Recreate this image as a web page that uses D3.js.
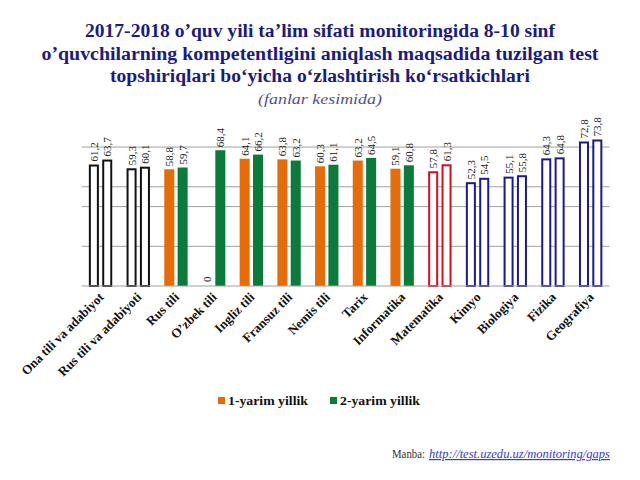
<!DOCTYPE html>
<html>
<head>
<meta charset="utf-8">
<script src="https://cdn.jsdelivr.net/npm/d3@7"></script>
<style>
  body { margin: 0; background: #fff; }
  svg text { font-family: "Liberation Serif", "Times New Roman", serif; }
</style>
</head>
<body>
<svg width="640" height="480"></svg>
<script>
var categories = ['Ona tili va adabiyot', 'Rus tili va adabiyoti', 'Rus tili', 'O\u2019zbek tili', 'Ingliz tili',
    'Fransuz tili', 'Nemis tili', 'Tarix', 'Informatika', 'Matematika', 'Kimyo', 'Biologiya', 'Fizika', 'Geografiya'];
var half1 = [61.2, 59.3, 58.8, 0, 64.1, 63.8, 60.3, 63.2, 59.1, 57.8, 52.3, 55.1, 64.3, 72.8];
var half2 = [63.7, 60.1, 59.7, 68.4, 66.2, 63.2, 61.1, 64.5, 60.8, 61.3, 54.5, 55.8, 64.8, 73.8];
// style group for each category: outline colour or filled
var groups = ['black', 'black', 'fill', 'fill', 'fill', 'fill', 'fill', 'fill', 'fill', 'red', 'navy', 'navy', 'navy', 'navy'];
var gridValues = [20, 40, 50, 70];
var seriesNames = ['1-yarim yillik', '2-yarim yillik'];

var fillColors = ['#e46c0a', '#0b7a3b'];
var outline = { black: '#111', red: '#d01020', navy: '#1a1a8c' };

var svg = d3.select('svg');

var x = d3.scaleBand()
    .domain(categories)
    .range([81.7, 609.5])
    .paddingInner(0.38)
    .paddingOuter(0.19);

var xs = d3.scaleBand()
    .domain([0, 1])
    .range([0, x.bandwidth()])
    .paddingInner(0.25);

var y = d3.scaleLinear()
    .domain([0, 80])
    .range([286, 127.2]);

// gridlines
svg.selectAll('.grid')
    .data(gridValues)
    .enter()
    .append('line')
    .attr('x1', 81.7)
    .attr('x2', 609.5)
    .attr('y1', function(d){ return y(d); })
    .attr('y2', function(d){ return y(d); })
    .attr('stroke', '#a0a0a0')
    .attr('stroke-width', 1);

var data = [];
categories.forEach(function(c, i){
    data.push({ cat: c, s: 0, v: half1[i], g: groups[i] });
    data.push({ cat: c, s: 1, v: half2[i], g: groups[i] });
});

svg.selectAll('rect.bar')
    .data(data.filter(function(d){ return d.v > 0; }))
    .enter()
    .append('rect')
    .attr('class', 'bar')
    .attr('x', function(d){ return x(d.cat) + xs(d.s) + (d.g === 'fill' ? 0 : 1); })
    .attr('width', function(d){ return xs.bandwidth() - (d.g === 'fill' ? 0 : 2); })
    .attr('y', function(d){ return y(d.v) + (d.g === 'fill' ? 0 : 1); })
    .attr('height', function(d){ return y(0) - y(d.v) - (d.g === 'fill' ? 0 : 1); })
    .attr('fill', function(d){ return d.g === 'fill' ? fillColors[d.s] : '#fff'; })
    .attr('stroke', function(d){ return d.g === 'fill' ? 'none' : outline[d.g]; })
    .attr('stroke-width', 2);

// baseline
svg.append('line')
    .attr('x1', 81.7)
    .attr('x2', 609.5)
    .attr('y1', y(0))
    .attr('y2', y(0))
    .attr('stroke', '#a0a0a0')
    .attr('stroke-width', 1);

// value labels
svg.selectAll('text.val')
    .data(data)
    .enter()
    .append('text')
    .attr('class', 'val')
    .attr('transform', function(d){
        var cx = x(d.cat) + xs(d.s) + xs.bandwidth() / 2 + 4;
        var cy = y(d.v) - (d.v > 0 ? 3 : 4);
        return 'translate(' + cx + ',' + cy + ') rotate(-90)';
    })
    .attr('font-size', 11)
    .attr('fill', '#222')
    .text(function(d){ return d.v > 0 ? d.v.toFixed(1).replace('.', ',') : '0'; });

// category labels
svg.selectAll('text.cat')
    .data(categories)
    .enter()
    .append('text')
    .attr('class', 'cat')
    .attr('transform', function(d){
        return 'translate(' + (x(d) + x.bandwidth() / 2 + 4) + ',298) rotate(-45)';
    })
    .attr('text-anchor', 'end')
    .attr('font-size', 13)
    .attr('font-weight', 'bold')
    .attr('fill', '#111')
    .text(function(d){ return d; });

// title (the source slide is stretched sideways, so lines get fixed widths)
var title = ['2017-2018 o\u2019quv yili ta\u2019lim sifati monitoringida 8-10 sinf',
    'o\u2019quvchilarning kompetentligini aniqlash maqsadida tuzilgan test',
    'topshiriqlari bo\u2018yicha o\u2018zlashtirish ko\u2018rsatkichlari'];
var titleW = [470, 557, 420];
svg.selectAll('text.title')
    .data(title)
    .enter()
    .append('text')
    .attr('class', 'title')
    .attr('x', function(d, i){ return 320 - titleW[i] / 2; })
    .attr('y', function(d, i){ return 37 + i * 22.5; })
    .attr('textLength', function(d, i){ return titleW[i]; })
    .attr('lengthAdjust', 'spacingAndGlyphs')
    .attr('font-size', 18.5)
    .attr('font-weight', 'bold')
    .attr('fill', '#1c1c7c')
    .text(function(d){ return d; });

svg.append('text')
    .attr('x', 258)
    .attr('y', 104)
    .attr('textLength', 124)
    .attr('lengthAdjust', 'spacingAndGlyphs')
    .attr('font-size', 15)
    .attr('font-style', 'italic')
    .attr('fill', '#54508a')
    .text('(fanlar kesimida)');

// legend
var legX = [218, 330];
seriesNames.forEach(function(n, i){
    svg.append('rect')
        .attr('x', legX[i])
        .attr('y', 397)
        .attr('width', 7)
        .attr('height', 7)
        .attr('fill', fillColors[i]);
    svg.append('text')
        .attr('x', legX[i] + 10)
        .attr('y', 405)
        .attr('textLength', 80)
        .attr('lengthAdjust', 'spacingAndGlyphs')
        .attr('font-size', 12.5)
        .attr('font-weight', 'bold')
        .attr('fill', '#111')
        .text(n);
});

// source
svg.append('text')
    .attr('x', 392)
    .attr('y', 458)
    .attr('textLength', 33)
    .attr('lengthAdjust', 'spacingAndGlyphs')
    .attr('font-size', 12)
    .attr('fill', '#333')
    .text('Manba:');
svg.append('text')
    .attr('x', 429)
    .attr('y', 458)
    .attr('textLength', 181)
    .attr('lengthAdjust', 'spacingAndGlyphs')
    .attr('font-size', 12)
    .attr('font-style', 'italic')
    .attr('fill', '#3a3ad0')
    .attr('text-decoration', 'underline')
    .text('http://test.uzedu.uz/monitoring/gaps');
</script>
</body>
</html>
